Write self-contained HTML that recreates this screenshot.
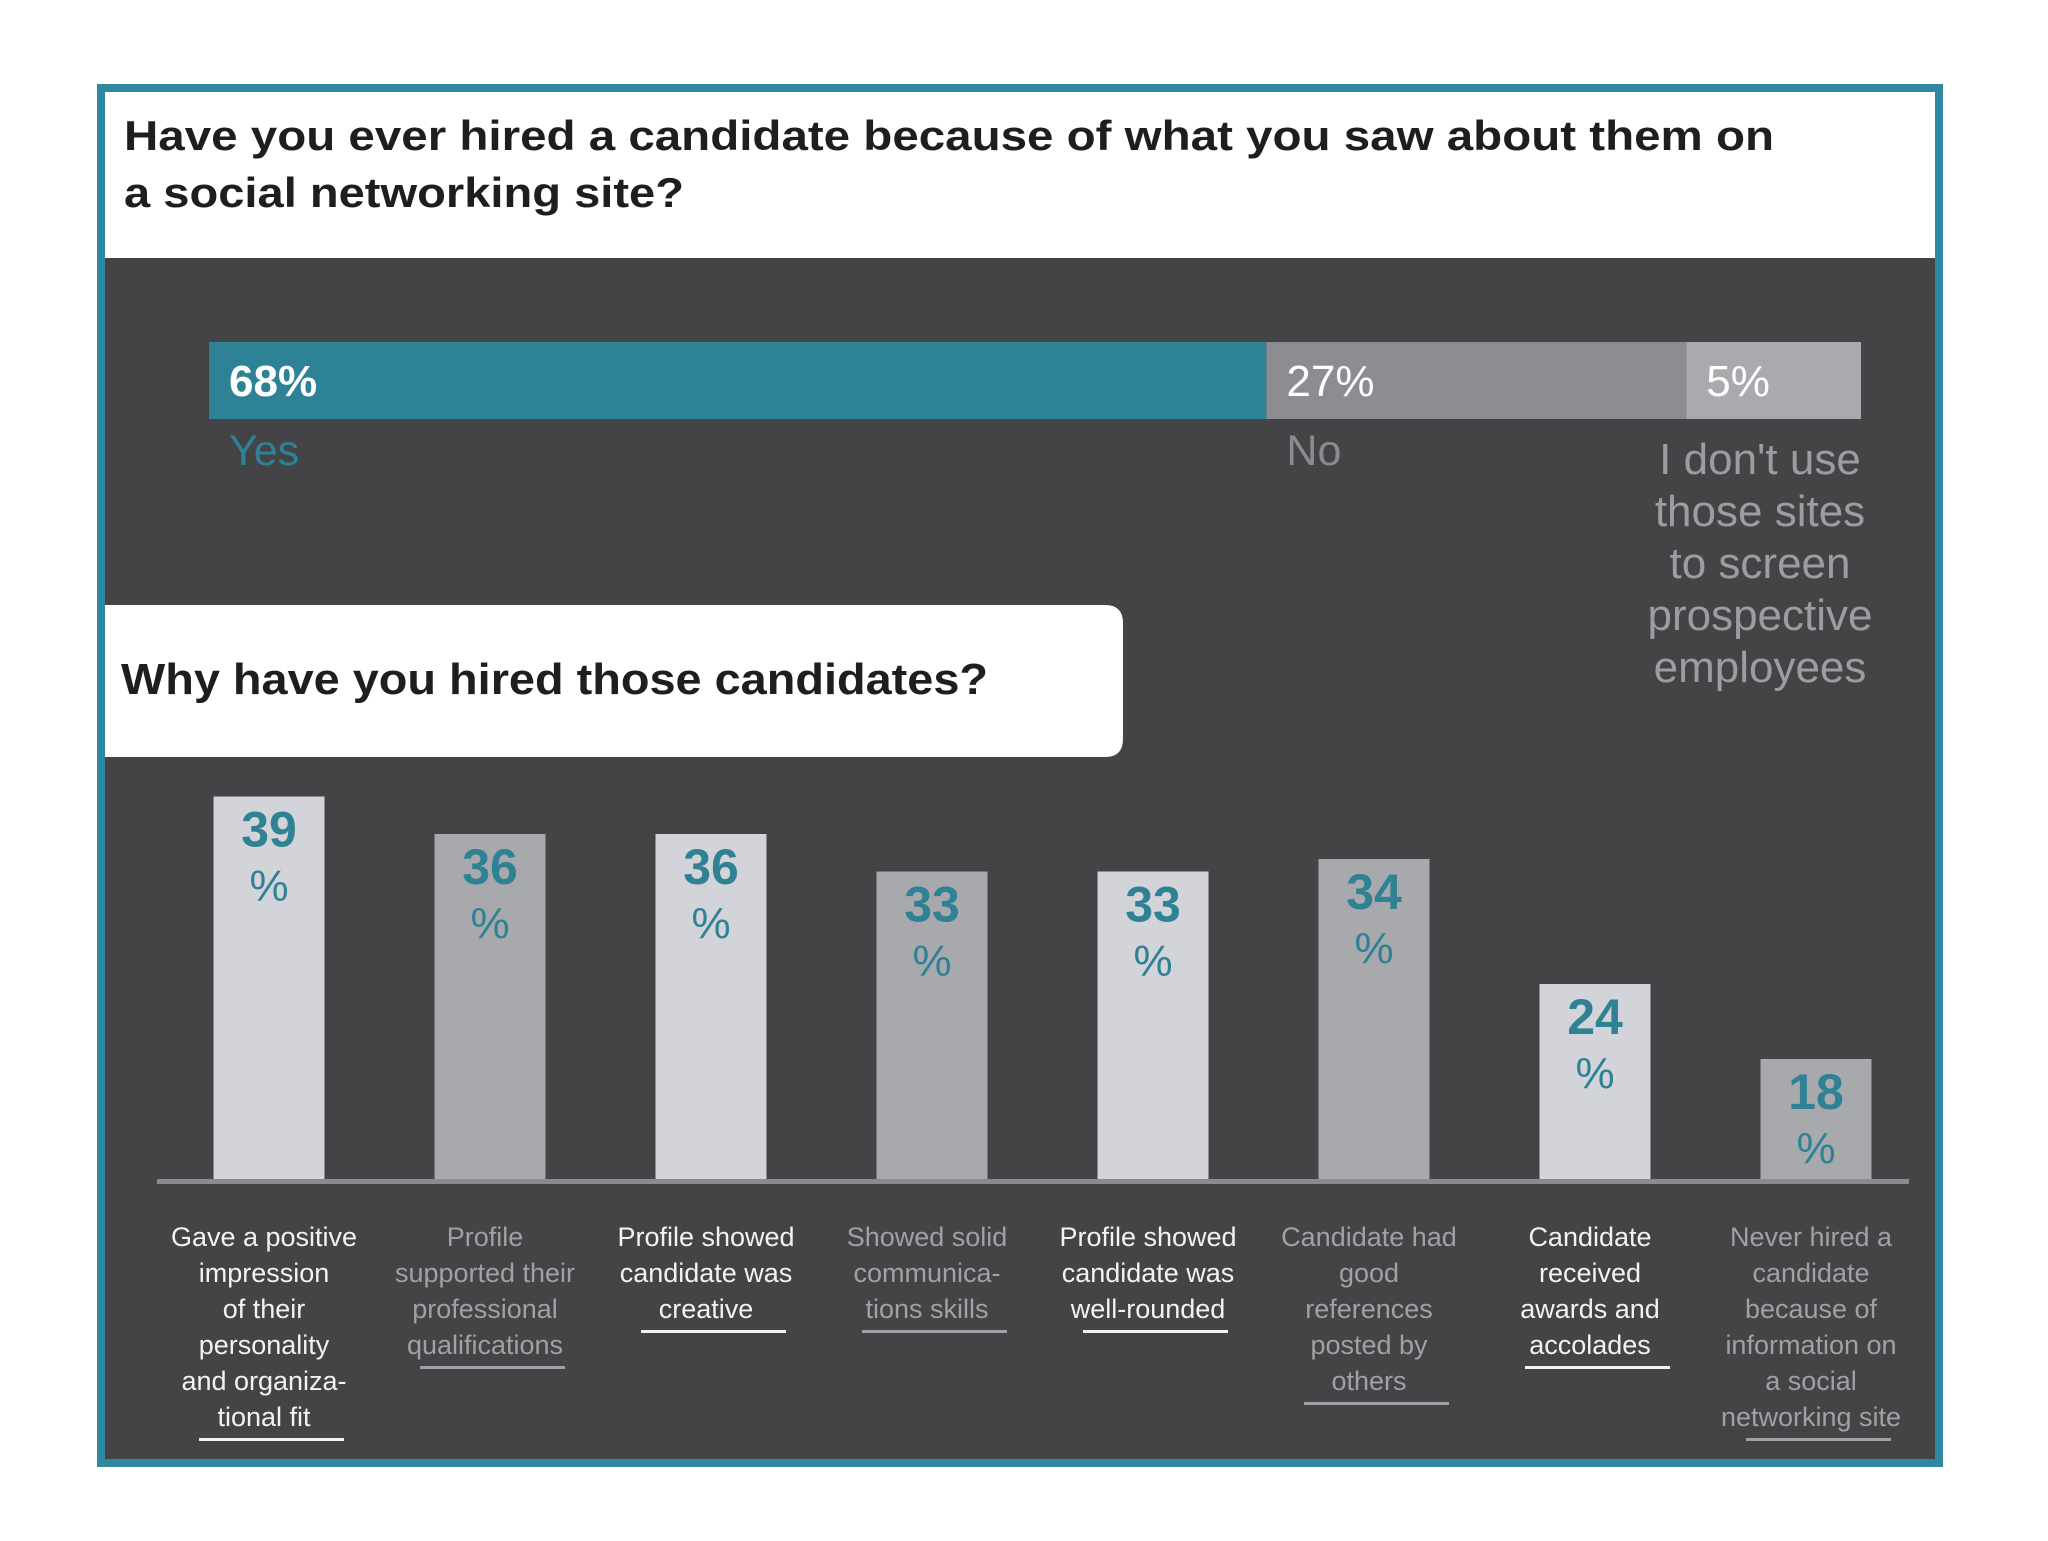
<!DOCTYPE html>
<html><head><meta charset="utf-8"><style>
body{margin:0;background:#fff;width:2048px;height:1536px;overflow:hidden;font-family:"Liberation Sans",sans-serif}
</style></head><body>
<svg width="2048" height="1536" viewBox="0 0 2048 1536" xmlns="http://www.w3.org/2000/svg" font-family="Liberation Sans, sans-serif">
<rect x="0" y="0" width="2048" height="1536" fill="#ffffff"/>
<rect x="101" y="88" width="1838" height="1375" fill="#444446" stroke="#2e88a0" stroke-width="8"/>
<rect x="105" y="92" width="1830" height="166" fill="#ffffff"/>
<text x="124" y="150" font-size="42" font-weight="bold" fill="#1e1e1e" textLength="1650" lengthAdjust="spacingAndGlyphs">Have you ever hired a candidate because of what you saw about them on</text>
<text x="124" y="207" font-size="42" font-weight="bold" fill="#1e1e1e" textLength="560" lengthAdjust="spacingAndGlyphs">a social networking site?</text>
<g id="topbar"></g>
<path d="M105 605 H1105 Q1123 605 1123 623 V739 Q1123 757 1105 757 H105 Z" fill="#ffffff"/>
<text x="121" y="694" font-size="44" font-weight="bold" fill="#1e1e1e" textLength="867" lengthAdjust="spacingAndGlyphs">Why have you hired those candidates?</text>
<g id="bars"></g>
<rect x="157" y="1179" width="1752" height="5" fill="#8a8b8e"/>
<g id="labels"></g>
</svg>
<script>
const topLabels=["Yes","No","I don't use those sites to screen prospective employees"];
const topValues=[68,27,5];
const categories=[
["Gave a positive","impression","of their","personality","and organiza-","tional fit"],
["Profile","supported their","professional","qualifications"],
["Profile showed","candidate was","creative"],
["Showed solid","communica-","tions skills"],
["Profile showed","candidate was","well-rounded"],
["Candidate had","good","references","posted by","others"],
["Candidate","received","awards and","accolades"],
["Never hired a","candidate","because of","information on","a social","networking site"]];
const values=[39,36,36,33,33,34,24,18];

const NS="http://www.w3.org/2000/svg";
function mk(tag,attrs,parent,txt){const e=document.createElementNS(NS,tag);for(const k in attrs)e.setAttribute(k,attrs[k]);if(txt!==undefined)e.textContent=txt;parent.appendChild(e);return e;}

// top stacked bar
const tx0=209,tx1=1861,ty=342,th=77;
function xTop(v){return Math.min(tx1,tx0+15.55*v);}
const topFill=["#2e8296","#8c8d90","#a9aaad"];
const labelCol=["#2e8296","#8a8b8e","#9c9da0"];
const tg=document.getElementById('topbar');
let cum=0;
topValues.forEach((v,i)=>{
 const x=xTop(cum),w=(i==topValues.length-1?tx1:xTop(cum+v))-x;
 const r=mk('rect',{x:x,y:ty,width:w,height:th,fill:topFill[i]},tg);
 
 
 const t=mk('text',{x:x+20,y:ty+54,'font-size':44,'font-weight':i==0?'bold':'normal',fill:'#ffffff'},tg,v+'%');
 
 
 if(i<2){
  const l=mk('text',{x:x+20,y:465,'font-size':43,fill:labelCol[i]},tg,topLabels[i]);
  
  
 } else {
  const lines=["I don't use","those sites","to screen","prospective","employees"];
  lines.forEach((s,j)=>{
   const l=mk('text',{x:1760,y:474+j*52,'font-size':44,fill:labelCol[i],'text-anchor':'middle'},tg,s);
   
   
  });
 }
 cum+=v;
});

// bar chart
const bx0=269,bstep=221,bw=111,base=1180;
function xBar(i){return bx0+i*bstep;}
function yVal(v){return 1284-12.5*v;}
const bg=document.getElementById('bars'),lg=document.getElementById('labels');
values.forEach((v,i)=>{
 const cx=xBar(i),top=yVal(v);
 const light=i%2==0;
 const r=mk('rect',{x:cx-bw/2,y:top,width:bw,height:base-top,fill:light?'#d3d4d9':'#a8a9ad'},bg);
 
 
 const t=mk('text',{x:cx,y:top+50,'font-size':50,'font-weight':'bold',fill:'#2f8294','text-anchor':'middle'},bg,String(v));
 
 
 const p=mk('text',{x:cx,y:top+104,'font-size':44,fill:'#2f8294','text-anchor':'middle'},bg,'%');
 
 
 const col=light?'#f2f2f2':'#a0a1a4';
 const lines=categories[i];
 lines.forEach((s,j)=>{
  const l=mk('text',{x:cx-5,y:1246+j*36,'font-size':27,fill:col,'text-anchor':'middle'},lg,s);
  
  
 });
 const u=mk('rect',{x:cx-70,y:1246+(lines.length-1)*36+12,width:145,height:3,fill:col},lg);
 
 
});
</script>
</body></html>
